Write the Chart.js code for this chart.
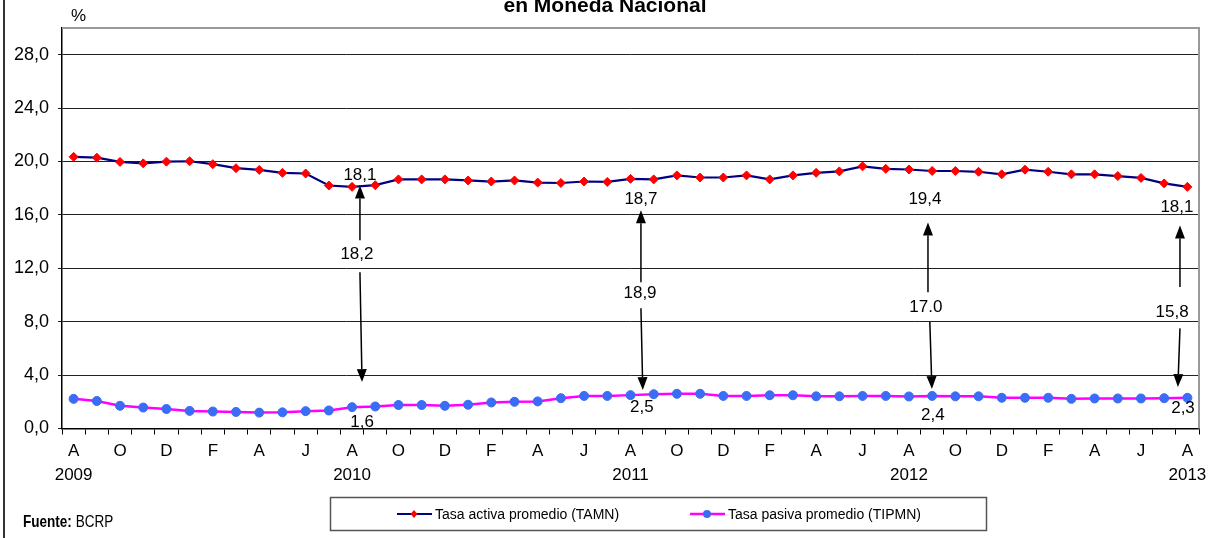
<!DOCTYPE html>
<html lang="es">
<head>
<meta charset="utf-8">
<script src="https://cdn.jsdelivr.net/npm/chart.js@4.4.0/dist/chart.umd.min.js"></script>
<style>
  html, body { margin: 0; padding: 0; background: #fff; }
  #wrap { position: relative; width: 1216px; height: 538px; overflow: hidden; font-family: "Liberation Sans", Arial, sans-serif; color: #000; }
  #grafico { position: absolute; left: 0; top: 0; }
  .borde { position: absolute; left: 3px; top: 0; width: 2px; height: 538px; background: #333; }
  .titulo { position: absolute; left: 0; width: 1210px; top: -6px; line-height: 21px; text-align: center; font-weight: bold; font-size: 21px; }
  .unidad { position: absolute; left: 71px; top: 7px; font-size: 17px; line-height: 17px; }
  .fuente { position: absolute; left: 23px; top: 513px; font-size: 16.5px; line-height: 16px; transform: scaleX(0.82); transform-origin: left top; white-space: nowrap; }
</style>
</head>
<body>
<div id="wrap">
  <canvas id="grafico" width="1216" height="538"></canvas>
  <div class="borde"></div>
  <div class="titulo">en Moneda Nacional</div>
  <div class="unidad">%</div>
  <div class="fuente"><b>Fuente:</b> BCRP</div>
</div>
<script>
// meses de agosto 2009 a agosto 2013
const categorias = [
  'Ago09', 'Sep09', 'Oct09', 'Nov09', 'Dic09', 'Ene10', 'Feb10', 'Mar10', 'Abr10', 'May10', 'Jun10', 'Jul10',
  'Ago10', 'Sep10', 'Oct10', 'Nov10', 'Dic10', 'Ene11', 'Feb11', 'Mar11', 'Abr11', 'May11', 'Jun11', 'Jul11',
  'Ago11', 'Sep11', 'Oct11', 'Nov11', 'Dic11', 'Ene12', 'Feb12', 'Mar12', 'Abr12', 'May12', 'Jun12', 'Jul12',
  'Ago12', 'Sep12', 'Oct12', 'Nov12', 'Dic12', 'Ene13', 'Feb13', 'Mar13', 'Abr13', 'May13', 'Jun13', 'Jul13',
  'Ago13'
];

// Tasa activa promedio en moneda nacional (TAMN), %
const tamn = [
  20.35, 20.29, 19.97, 19.86, 19.99, 20.02, 19.80, 19.50, 19.37, 19.15, 19.10, 18.20,
  18.1, 18.23, 18.66, 18.66, 18.66, 18.58, 18.50, 18.58, 18.42, 18.39, 18.50, 18.47,
  18.7, 18.66, 18.96, 18.80, 18.80, 18.96, 18.66, 18.96, 19.15, 19.26, 19.64, 19.45,
  19.4, 19.29, 19.29, 19.23, 19.04, 19.39, 19.23, 19.04, 19.04, 18.91, 18.77, 18.36,
  18.1
];

// Tasa pasiva promedio en moneda nacional (TIPMN), %
const tipmn = [
  2.22, 2.06, 1.70, 1.57, 1.46, 1.32, 1.27, 1.24, 1.19, 1.21, 1.30, 1.35,
  1.6, 1.65, 1.76, 1.76, 1.70, 1.78, 1.95, 2.00, 2.03, 2.27, 2.44, 2.44,
  2.5, 2.57, 2.60, 2.60, 2.44, 2.44, 2.49, 2.49, 2.41, 2.41, 2.44, 2.44,
  2.4, 2.44, 2.41, 2.41, 2.30, 2.30, 2.30, 2.22, 2.25, 2.25, 2.25, 2.27,
  2.3
];

const inicialMes = { Ene: 'E', Feb: 'F', Mar: 'M', Abr: 'A', May: 'M', Jun: 'J', Jul: 'J', Ago: 'A', Sep: 'S', Oct: 'O', Nov: 'N', Dic: 'D' };
const ticksY = [0, 4, 8, 12, 16, 20, 24, 28];

// textos del spread tal como se publican
const spreads = ['18,2', '18,9', '17.0', '15,8'];

// ubicacion de flechas y rotulos: indice del mes, desplazamiento en categorias, alturas en %
const anotaciones = [
  { i: 12, xTop: 0.34, yTop: 18.95, xUp: 0.34, up: [14.1, 18.2], xMid: 0.21, yMid: 13.05, xDown: [0.34, 0.43], down: [11.7, 3.48], xBot: 0.43, yBot: 0.49 },
  { i: 24, xTop: 0.45, yTop: 17.16, xUp: 0.45, up: [10.95, 16.34], xMid: 0.41, yMid: 10.13, xDown: [0.45, 0.53], down: [9.0, 2.88], xBot: 0.49, yBot: 1.61 },
  { i: 36, xTop: 0.69, yTop: 17.16, xUp: 0.82, up: [10.2, 15.44], xMid: 0.73, yMid: 9.08, xDown: [0.90, 0.99], down: [8.0, 2.95], xBot: 1.03, yBot: 1.0 },
  { i: 48, xTop: -0.45, yTop: 16.6, xUp: -0.32, up: [10.6, 15.2], xMid: -0.66, yMid: 8.7, xDown: [-0.32, -0.41], down: [7.5, 3.1], xBot: -0.19, yBot: 1.53 }
];

const FUENTE = '"Liberation Sans", Arial, sans-serif';
const fmt = v => v.toFixed(1).replace('.', ',');

const flecha = (ctx, x1, y1, x2, y2) => {
  const ang = Math.atan2(y2 - y1, x2 - x1);
  const largo = 13, ancho = 5;
  const bx = x2 - largo * Math.cos(ang), by = y2 - largo * Math.sin(ang);
  ctx.beginPath();
  ctx.moveTo(x1, y1);
  ctx.lineTo(bx, by);
  ctx.stroke();
  ctx.beginPath();
  ctx.moveTo(x2, y2);
  ctx.lineTo(bx + ancho * Math.sin(ang), by - ancho * Math.cos(ang));
  ctx.lineTo(bx - ancho * Math.sin(ang), by + ancho * Math.cos(ang));
  ctx.closePath();
  ctx.fill();
}

const marco = {
  id: 'marco',
  beforeDatasetsDraw(chart) {
    const { ctx, chartArea: a } = chart;
    ctx.save();
    ctx.strokeStyle = '#999';
    ctx.lineWidth = 2;
    ctx.beginPath();
    ctx.moveTo(a.left, a.top);
    ctx.lineTo(a.right, a.top);
    ctx.lineTo(a.right, a.bottom);
    ctx.stroke();
    ctx.restore();
  }
};

const rotulos = {
  id: 'rotulos',
  afterDatasetsDraw(chart) {
    const { ctx } = chart;
    const x = chart.scales.x, y = chart.scales.y;
    ctx.save();
    ctx.fillStyle = '#000';
    ctx.strokeStyle = '#000';
    ctx.lineWidth = 1.5;
    ctx.font = '17px ' + FUENTE;
    ctx.textAlign = 'center';
    ctx.textBaseline = 'middle';
    anotaciones.forEach((n, k) => {
      const px = d => x.getPixelForValue(n.i + d);
      ctx.fillText(fmt(tamn[n.i]), px(n.xTop), y.getPixelForValue(n.yTop));
      flecha(ctx, px(n.xUp), y.getPixelForValue(n.up[0]), px(n.xUp), y.getPixelForValue(n.up[1]));
      ctx.fillText(spreads[k], px(n.xMid), y.getPixelForValue(n.yMid));
      flecha(ctx, px(n.xDown[0]), y.getPixelForValue(n.down[0]), px(n.xDown[1]), y.getPixelForValue(n.down[1]));
      ctx.fillText(fmt(tipmn[n.i]), px(n.xBot), y.getPixelForValue(n.yBot));
    });
    ctx.restore();
  }
};

// leyenda en recuadro bajo el eje
const leyenda = {
  id: 'leyenda',
  afterDraw(chart) {
    const { ctx } = chart;
    ctx.save();
    ctx.strokeStyle = '#555';
    ctx.lineWidth = 1.5;
    ctx.strokeRect(330.5, 497.5, 656, 33);
    const cy = 514;
    const items = [{ x: 397, ds: chart.data.datasets[0] }, { x: 690, ds: chart.data.datasets[1] }];
    items.forEach(({ x, ds }) => {
      ctx.strokeStyle = ds.borderColor;
      ctx.lineWidth = ds.borderWidth;
      ctx.beginPath();
      ctx.moveTo(x, cy);
      ctx.lineTo(x + 35, cy);
      ctx.stroke();
      ctx.fillStyle = ds.pointBackgroundColor;
      ctx.beginPath();
      if (ds.pointStyle === 'rectRot') {
        ctx.moveTo(x + 17, cy - 4);
        ctx.lineTo(x + 20.5, cy);
        ctx.lineTo(x + 17, cy + 4);
        ctx.lineTo(x + 13.5, cy);
        ctx.closePath();
      } else {
        ctx.arc(x + 17, cy, 4, 0, Math.PI * 2);
      }
      ctx.fill();
      ctx.fillStyle = '#000';
      ctx.font = '14px ' + FUENTE;
      ctx.textBaseline = 'middle';
      ctx.fillText(ds.label, x + 38, cy + 1);
    });
    ctx.restore();
  }
};

new Chart(document.getElementById('grafico'), {
  type: 'line',
  data: {
    labels: categorias,
    datasets: [
      {
        label: 'Tasa activa promedio (TAMN)',
        data: tamn,
        borderColor: '#000080',
        borderWidth: 2.2,
        pointStyle: 'rectRot',
        pointRadius: 4.5,
        pointBackgroundColor: '#ff0000',
        pointBorderColor: '#ff0000',
        pointBorderWidth: 1,
        tension: 0
      },
      {
        label: 'Tasa pasiva promedio (TIPMN)',
        data: tipmn,
        borderColor: '#ff00ff',
        borderWidth: 2.5,
        pointStyle: 'circle',
        pointRadius: 4.5,
        pointBackgroundColor: '#3a6cf6',
        pointBorderColor: '#3a6cf6',
        pointBorderWidth: 1,
        tension: 0
      }
    ]
  },
  options: {
    responsive: false,
    animation: false,
    devicePixelRatio: 1,
    layout: { padding: { top: 28, right: 17, left: 0, bottom: 0 } },
    plugins: { legend: { display: false }, tooltip: { enabled: false } },
    scales: {
      x: {
        offset: true,
        afterFit: s => { s.height = 109.5; },
        border: { color: '#000', width: 1.5 },
        grid: { offset: true, drawOnChartArea: false, drawTicks: true, tickLength: 6, color: '#000' },
        ticks: {
          autoSkip: false,
          maxRotation: 0,
          padding: 4,
          color: '#000',
          font: { family: FUENTE, size: 17, lineHeight: 1.45 },
          callback: (v, i) => {
            if (i % 2) return '';
            const c = categorias[i];
            const m = inicialMes[c.slice(0, 3)];
            return i % 12 === 0 ? [m, '20' + c.slice(3)] : m;
          }
        }
      },
      y: {
        min: 0,
        max: 30,
        afterFit: s => { s.width = 62; },
        afterBuildTicks: s => { s.ticks = ticksY.concat([30]).map(v => ({ value: v })); },
        border: { color: '#000', width: 1.5 },
        grid: {
          color: c => (c.tick && c.tick.value === 30 ? 'rgba(0,0,0,0)' : '#222'),
          lineWidth: 1,
          tickLength: 4
        },
        ticks: {
          padding: 9,
          color: '#000',
          font: { family: FUENTE, size: 18 },
          callback: v => (v === 30 ? '' : fmt(v))
        }
      }
    }
  },
  plugins: [marco, rotulos, leyenda]
});
</script>
</body>
</html>
